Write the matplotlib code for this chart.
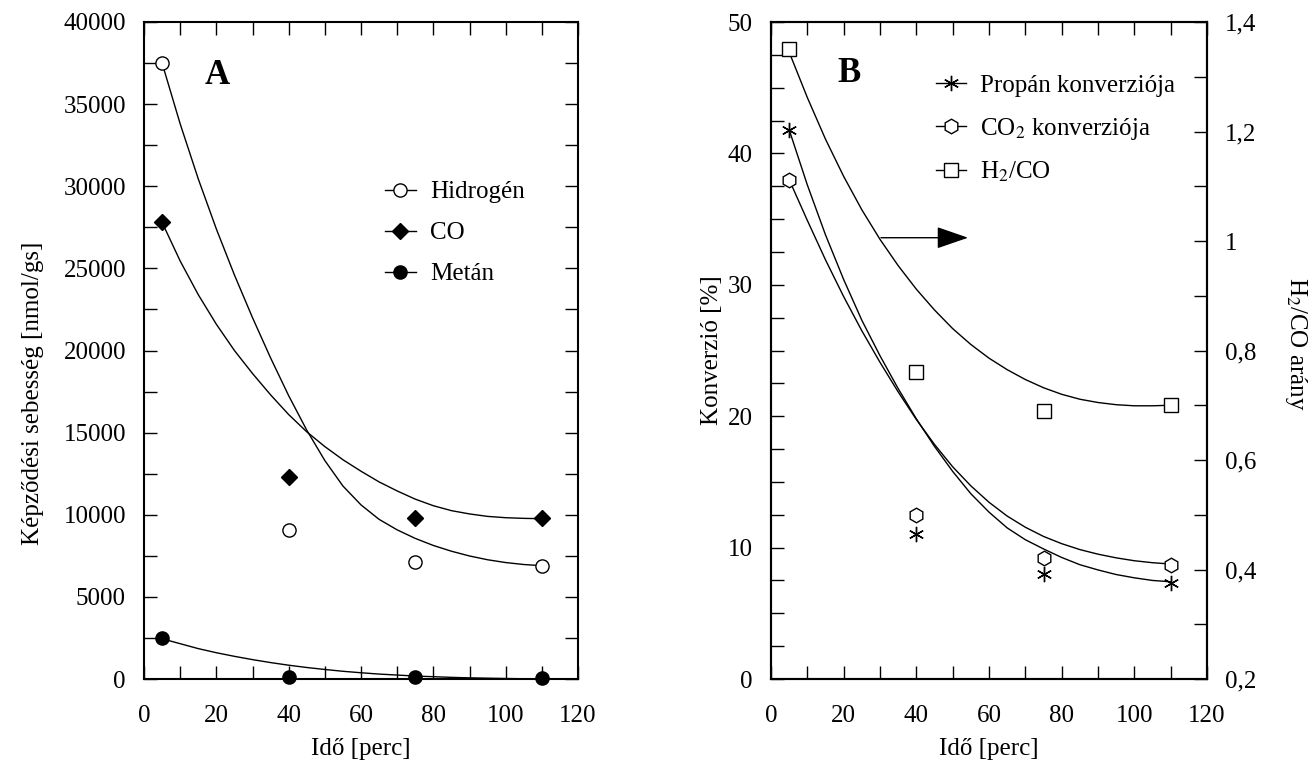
import matplotlib
matplotlib.use('Agg')
import matplotlib.pyplot as plt
import matplotlib.ticker as ticker
from matplotlib.lines import Line2D

plt.rcParams['font.family'] = ['Liberation Serif', 'DejaVu Serif']
plt.rcParams['mathtext.fontset'] = 'stix'
plt.rcParams['font.size'] = 18

# measured points
ido = [5, 40, 75, 110]
hidrogen = [37500, 9100, 7100, 6900]
co = [27800, 12300, 9800, 9800]
metan = [2500, 150, 100, 50]

propan_konv = [41.8, 11.0, 8.0, 7.3]
co2_konv = [38.0, 12.5, 9.2, 8.7]
h2co = [1.35, 0.76, 0.69, 0.70]

# fitted curves, every 5 min
ido_fit = [5, 10, 15, 20, 25, 30, 35, 40, 45, 50, 55, 60, 65, 70, 75, 80, 85, 90, 95, 100, 105, 110]
hidrogen_fit = [37500, 33800, 30450, 27400, 24600, 22000, 19550, 17250, 15150, 13300, 11750,
                10600, 9720, 9080, 8560, 8130, 7780, 7490, 7260, 7090, 6970, 6900]
co_fit = [27800, 25450, 23400, 21600, 20000, 18600, 17300, 16100, 15050, 14150, 13350,
          12650, 12000, 11450, 10950, 10550, 10250, 10050, 9900, 9820, 9780, 9760]
metan_fit = [2450, 2150, 1850, 1600, 1380, 1180, 1000, 840, 700, 580, 470,
             380, 300, 240, 180, 140, 100, 70, 50, 30, 15, 0]

propan_fit = [41.8, 37.6, 33.8, 30.4, 27.3, 24.6, 22.1, 19.8, 17.7, 15.8, 14.1,
              12.7, 11.5, 10.6, 9.9, 9.25, 8.7, 8.3, 7.95, 7.7, 7.5, 7.4]
co2_fit = [38.0, 34.9, 31.9, 29.1, 26.5, 24.1, 21.85, 19.75, 17.85, 16.15, 14.7,
           13.45, 12.4, 11.55, 10.85, 10.3, 9.85, 9.5, 9.22, 9.0, 8.85, 8.75]
h2co_fit = [1.345, 1.262, 1.186, 1.118, 1.057, 1.003, 0.955, 0.912, 0.874, 0.840, 0.811,
            0.786, 0.765, 0.747, 0.732, 0.720, 0.711, 0.705, 0.701, 0.699, 0.699, 0.70]

fig = plt.figure(figsize=(13.16, 7.74), dpi=100)
ax1 = fig.add_axes([144/1316, 95/774, 434/1316, 657/774])
ax2 = fig.add_axes([771/1316, 95/774, 436/1316, 657/774])
ax3 = ax2.twinx()

lw = 1.0
tick_kw = dict(direction='in', length=9.5, width=1.0, pad=13)

# ---- panel A
ax1.plot(ido_fit, hidrogen_fit, color='k', lw=lw)
ax1.plot(ido_fit, co_fit, color='k', lw=lw)
ax1.plot(ido_fit, metan_fit, color='k', lw=lw)
ax1.plot(ido, hidrogen, 'o', ms=9.5, mfc='white', mec='k', mew=1.0, clip_on=False)
ax1.plot(ido, co, 'D', ms=8, mfc='k', mec='k', clip_on=False)
ax1.plot(ido, metan, 'o', ms=9.5, mfc='k', mec='k', clip_on=False)

ax1.set_xlim(0, 120)
ax1.set_ylim(0, 40000)
ax1.xaxis.set_major_locator(ticker.MultipleLocator(20))
ax1.xaxis.set_minor_locator(ticker.MultipleLocator(10))
ax1.yaxis.set_major_locator(ticker.MultipleLocator(5000))
ax1.yaxis.set_minor_locator(ticker.MultipleLocator(2500))
ax1.tick_params(which='both', top=True, right=True, **tick_kw)
ax1.tick_params(axis='x', pad=19)
ax1.text(-0.255, 0.435, 'Képződési sebesség [nmol/gs]', rotation=90, transform=ax1.transAxes,
         ha='center', va='center')
ax1.text(0.5, -0.09, 'Idő [perc]', transform=ax1.transAxes, ha='center', va='top')
ax1.text(0.168, 0.919, 'A', transform=ax1.transAxes, ha='center', va='center',
         fontsize=25, fontweight='bold')

h_a = [Line2D([], [], color='k', lw=lw, marker='o', ms=9.5, mfc='white', mec='k'),
       Line2D([], [], color='k', lw=lw, marker='D', ms=8, mfc='k', mec='k'),
       Line2D([], [], color='k', lw=lw, marker='o', ms=9.5, mfc='k', mec='k')]
ax1.legend(h_a, ['Hidrogén', 'CO', 'Metán'], frameon=False, loc='upper left',
           bbox_to_anchor=(0.555, 0.758), borderpad=0, borderaxespad=0,
           handlelength=1.25, handletextpad=0.55, labelspacing=0.74)

# ---- panel B
ax2.plot(ido_fit, propan_fit, color='k', lw=lw)
ax2.plot(ido_fit, co2_fit, color='k', lw=lw)
ax2.plot(ido, propan_konv, marker=(6, 2, 0), ms=11, ls='none', mec='k', mew=1.0, clip_on=False)
ax2.plot(ido, co2_konv, 'h', ms=10.5, mfc='white', mec='k', mew=1.0, clip_on=False)
ax3.plot(ido_fit, h2co_fit, color='k', lw=lw)
ax3.plot(ido, h2co, 's', ms=9.5, mfc='white', mec='k', mew=1.0, clip_on=False)

ax2.set_xlim(0, 120)
ax2.set_ylim(0, 50)
ax3.set_ylim(0.2, 1.4)
ax2.xaxis.set_major_locator(ticker.MultipleLocator(20))
ax2.xaxis.set_minor_locator(ticker.MultipleLocator(10))
ax2.yaxis.set_major_locator(ticker.MultipleLocator(10))
ax2.yaxis.set_minor_locator(ticker.MultipleLocator(2.5))
ax3.yaxis.set_major_locator(ticker.MultipleLocator(0.2))
ax3.yaxis.set_minor_locator(ticker.MultipleLocator(0.1))
ax3.yaxis.set_major_formatter(ticker.FuncFormatter(lambda v, p: ('%g' % round(v, 2)).replace('.', ',')))
ax2.tick_params(which='both', top=True, right=False, **tick_kw)
ax2.tick_params(axis='x', pad=19)
ax3.tick_params(which='both', **tick_kw)

ax2.text(-0.135, 0.5, 'Konverzió [%]', rotation=90, transform=ax2.transAxes,
         ha='center', va='center')
ax2.text(1.205, 0.51, 'H$_2$/CO arány', rotation=270, transform=ax2.transAxes,
         ha='center', va='center')
ax2.text(0.5, -0.09, 'Idő [perc]', transform=ax2.transAxes, ha='center', va='top')
ax2.text(0.179, 0.922, 'B', transform=ax2.transAxes, ha='center', va='center',
         fontsize=25, fontweight='bold')

ax3.annotate('', xy=(55, 1.006), xytext=(29.5, 1.006),
             arrowprops=dict(arrowstyle='-|>,head_length=1.1,head_width=0.38', color='k', lw=1.0))

h_b = [Line2D([], [], color='k', lw=lw, marker=(6, 2, 0), ms=11, mec='k'),
       Line2D([], [], color='k', lw=lw, marker='h', ms=10.5, mfc='white', mec='k'),
       Line2D([], [], color='k', lw=lw, marker='s', ms=9.5, mfc='white', mec='k')]
ax2.legend(h_b, ['Propán konverziója', 'CO$_2$ konverziója', 'H$_2$/CO'], frameon=False,
           loc='upper left', bbox_to_anchor=(0.378, 0.92), borderpad=0, borderaxespad=0,
           handlelength=1.2, handletextpad=0.55, labelspacing=0.74)

for a in (ax1, ax2, ax3):
    for s in a.spines.values():
        s.set_linewidth(1.5)

fig.savefig('out.png', dpi=100)
